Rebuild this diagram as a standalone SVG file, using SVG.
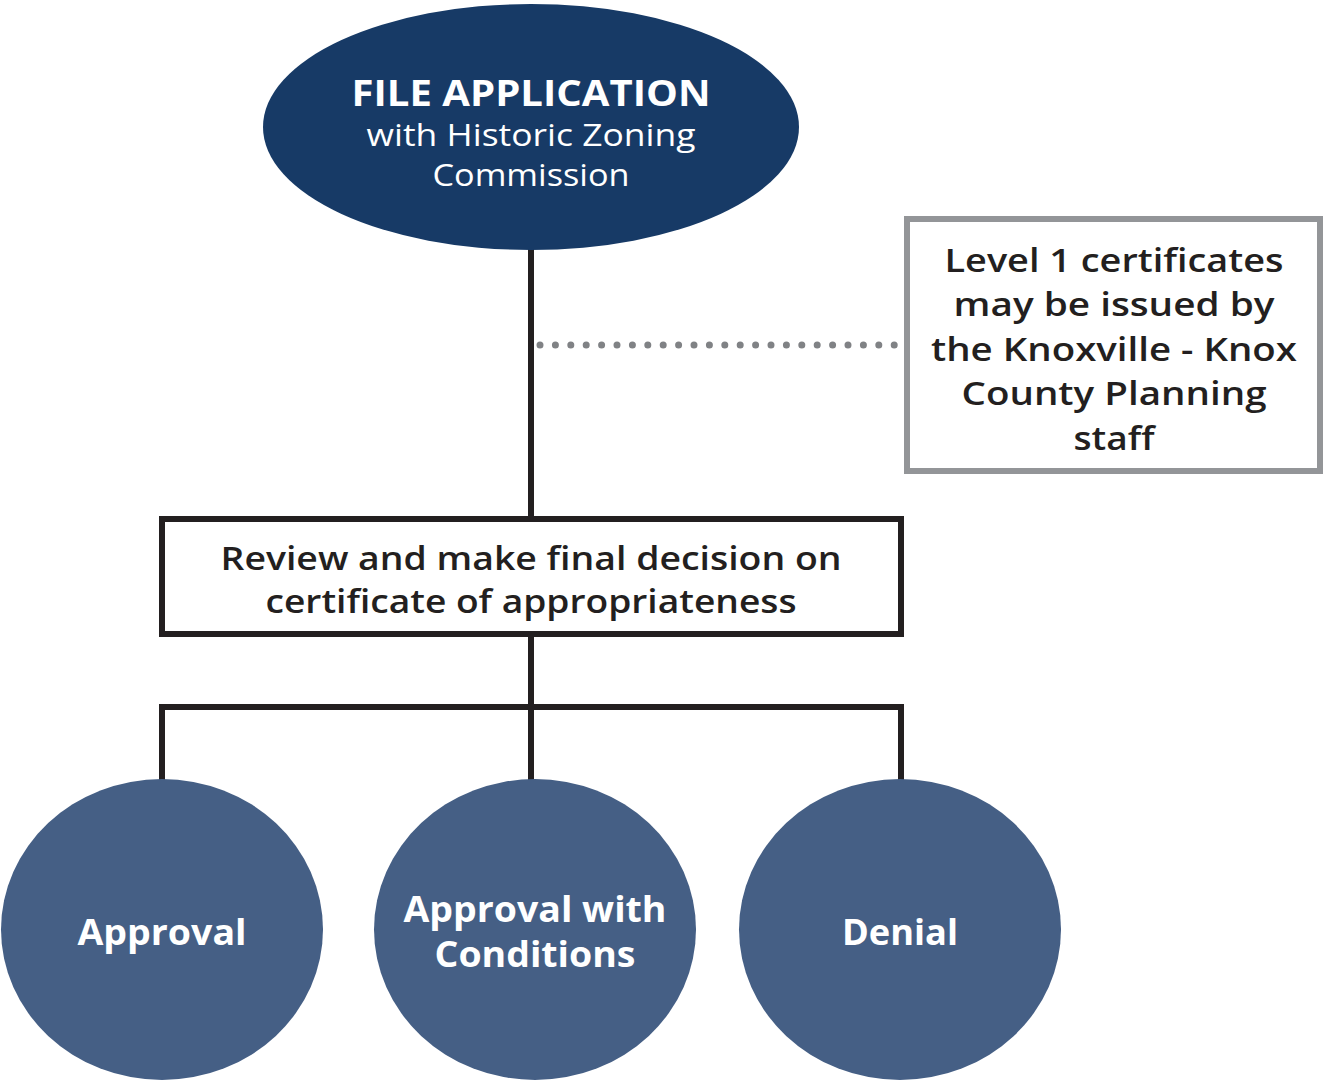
<svg xmlns="http://www.w3.org/2000/svg" width="1323" height="1083" viewBox="0 0 1323 1083">
<style>
.t{font-family:"Open Sans","Liberation Sans",sans-serif;text-anchor:middle}
.w{fill:#ffffff}
.k{fill:#231f20;font-weight:600}
.b{font-weight:700}
.ln{stroke:#231f20;stroke-width:6;fill:none}
</style>
<rect width="1323" height="1083" fill="#ffffff"/>
<g id="connectors">
<line class="ln" x1="531" y1="245" x2="531" y2="519"/>
<line class="ln" x1="531" y1="634" x2="531" y2="707"/>
<polyline class="ln" points="162,782 162,707 901,707 901,782"/>
<line class="ln" x1="531" y1="707" x2="531" y2="782"/>
<line x1="540" y1="345" x2="903" y2="345" stroke="#808285" stroke-width="7" stroke-linecap="round" stroke-dasharray="0 15.4"/>
</g>
<g id="file-application">
<ellipse cx="531" cy="127" rx="268" ry="123" fill="#173a66"/>
<text class="t w b" x="531" y="106" font-size="35" textLength="359" lengthAdjust="spacingAndGlyphs">FILE APPLICATION</text>
<text class="t w" x="531" y="146" font-size="31" textLength="329" lengthAdjust="spacingAndGlyphs">with Historic Zoning</text>
<text class="t w" x="531" y="186" font-size="31" textLength="197" lengthAdjust="spacingAndGlyphs">Commission</text>
</g>
<g id="level1-note">
<rect x="907" y="219" width="413" height="252" fill="#ffffff" stroke="#939598" stroke-width="6"/>
<text class="t k" x="1114" y="272" font-size="33" textLength="339" lengthAdjust="spacingAndGlyphs">Level 1 certificates</text>
<text class="t k" x="1114" y="316" font-size="33" textLength="321" lengthAdjust="spacingAndGlyphs">may be issued by</text>
<text class="t k" x="1114" y="361" font-size="33" textLength="366" lengthAdjust="spacingAndGlyphs">the Knoxville - Knox</text>
<text class="t k" x="1114" y="405" font-size="33" textLength="305" lengthAdjust="spacingAndGlyphs">County Planning</text>
<text class="t k" x="1114" y="450" font-size="33" textLength="81" lengthAdjust="spacingAndGlyphs">staff</text>
</g>
<g id="review">
<rect x="162" y="519" width="739" height="115" fill="#ffffff" stroke="#231f20" stroke-width="6"/>
<text class="t k" x="531" y="570" font-size="32" textLength="621" lengthAdjust="spacingAndGlyphs">Review and make final decision on</text>
<text class="t k" x="531" y="613" font-size="32" textLength="531" lengthAdjust="spacingAndGlyphs">certificate of appropriateness</text>
</g>
<g id="approval">
<ellipse cx="162" cy="929.5" rx="161" ry="150.5" fill="#455f85"/>
<text class="t w b" x="162" y="945" font-size="35" textLength="169" lengthAdjust="spacingAndGlyphs">Approval</text>
</g>
<g id="approval-conditions">
<ellipse cx="535" cy="929.5" rx="161" ry="150.5" fill="#455f85"/>
<text class="t w b" x="535" y="922" font-size="35" textLength="263" lengthAdjust="spacingAndGlyphs">Approval with</text>
<text class="t w b" x="535" y="967" font-size="35" textLength="201" lengthAdjust="spacingAndGlyphs">Conditions</text>
</g>
<g id="denial">
<ellipse cx="900" cy="929.5" rx="161" ry="150.5" fill="#455f85"/>
<text class="t w b" x="900" y="945" font-size="35" textLength="116" lengthAdjust="spacingAndGlyphs">Denial</text>
</g>
</svg>
